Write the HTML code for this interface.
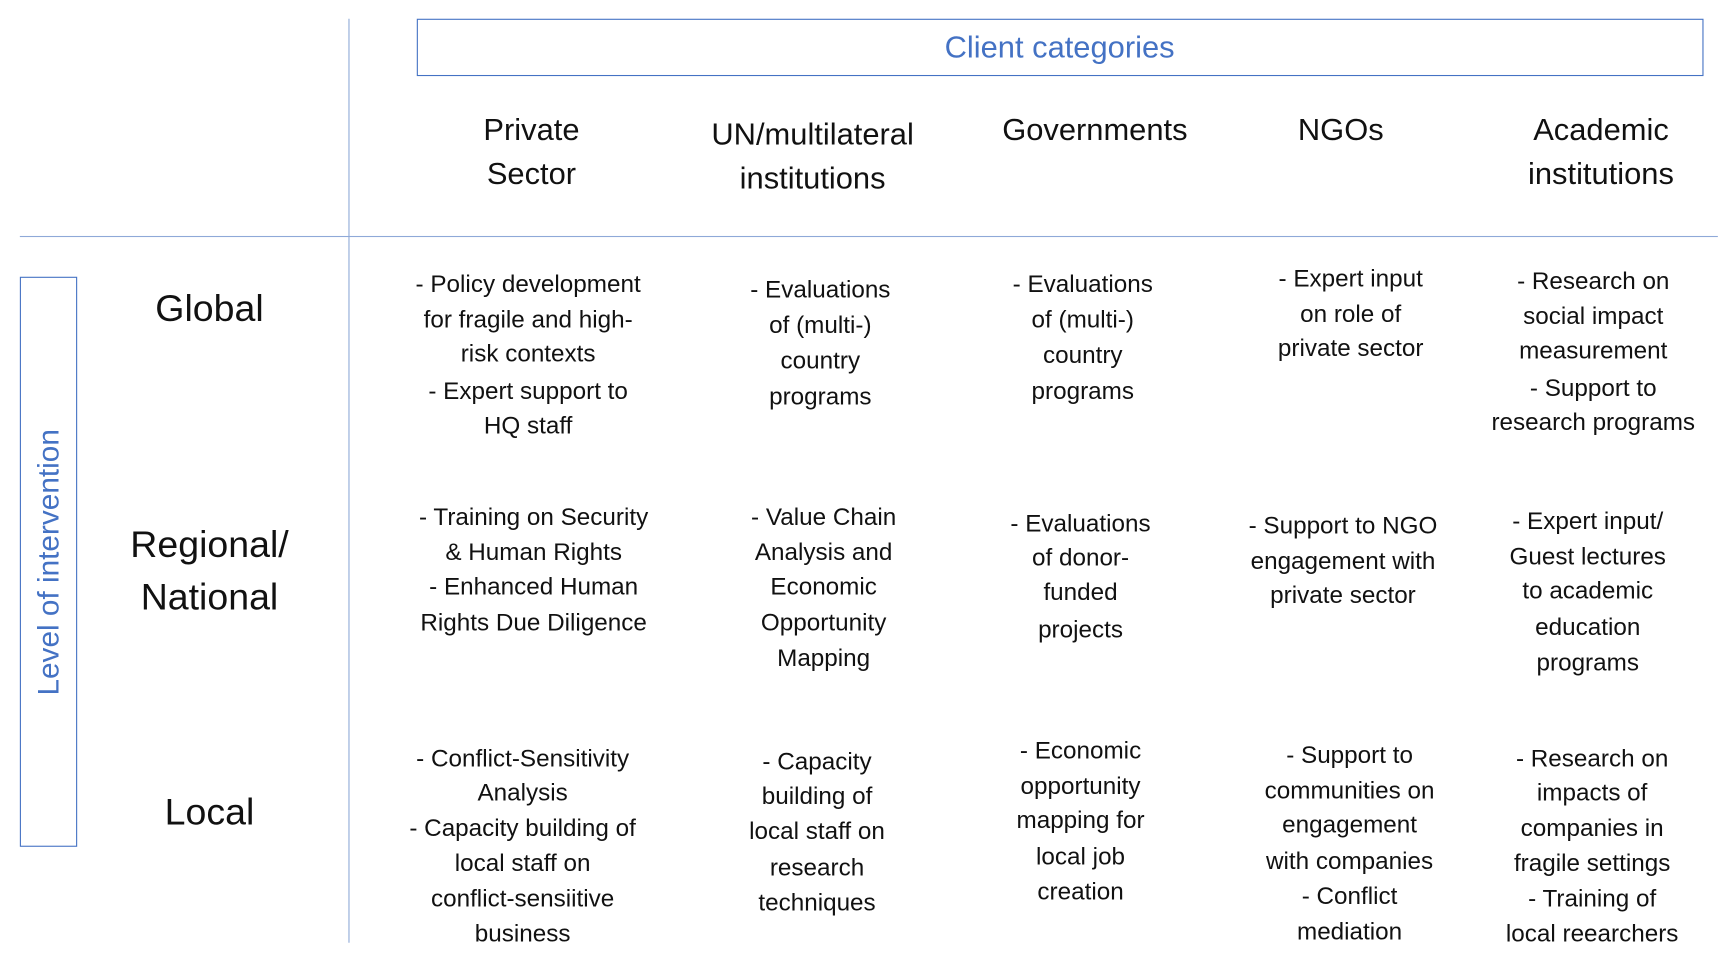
<!DOCTYPE html>
<html><head><meta charset="utf-8"><style>
html,body{margin:0;padding:0;background:#fff;}
body{width:1720px;height:972px;overflow:hidden;position:relative;}
#w{position:absolute;left:0;top:0;width:1560px;height:882px;transform:scale(1.1026);transform-origin:0 0;font-family:"Liberation Sans",sans-serif;color:#111;}
.l{position:absolute;width:420px;margin-left:-210px;text-align:center;line-height:32px;height:32px;margin-top:-17px;font-size:22px;white-space:nowrap;}
.h{font-size:28px;line-height:40px;height:40px;margin-top:-21px;}
.r{font-size:34px;line-height:40px;height:40px;margin-top:-21px;}
</style></head><body><div id="w">
<div style="position:absolute;left:316px;top:17px;width:1px;height:838px;background:#8fa9d8"></div>
<div style="position:absolute;left:18px;top:214px;width:1540px;height:1px;background:#8fa9d8"></div>
<div style="position:absolute;left:378px;top:17px;width:1165px;height:50px;border:1.5px solid #4472C4"></div>
<div class="l h" style="left:961px;top:44px;color:#4472C4">Client categories</div>
<div style="position:absolute;left:18px;top:251px;width:50px;height:515px;border:1.5px solid #4472C4"></div>
<div style="position:absolute;left:44px;top:510px;width:0;height:0"><div style="position:absolute;width:400px;left:-200px;top:-18px;text-align:center;font-size:27px;line-height:36px;color:#4472C4;transform:rotate(-90deg);white-space:nowrap">Level of intervention</div></div>

<div class="l h" style="left:482px;top:119px">Private</div><div class="l h" style="left:482px;top:159px">Sector</div>
<div class="l h" style="left:737px;top:123px">UN/multilateral</div><div class="l h" style="left:737px;top:163px">institutions</div>
<div class="l h" style="left:993px;top:119px">Governments</div>
<div class="l h" style="left:1216px;top:119px">NGOs</div>
<div class="l h" style="left:1452px;top:119px">Academic</div><div class="l h" style="left:1452px;top:159px">institutions</div>

<div class="l r" style="left:190px;top:281px">Global</div>
<div class="l r" style="left:190px;top:495px">Regional/</div><div class="l r" style="left:190px;top:543px">National</div>
<div class="l r" style="left:190px;top:738px">Local</div>

<div class="l" style="left:479px;top:259px">- Policy development</div>
<div class="l" style="left:479px;top:291px">for fragile and high-</div>
<div class="l" style="left:479px;top:322px">risk contexts</div>
<div class="l" style="left:479px;top:356px">- Expert support to</div>
<div class="l" style="left:479px;top:387px">HQ staff</div>

<div class="l" style="left:744px;top:264px">- Evaluations</div>
<div class="l" style="left:744px;top:296px">of (multi-)</div>
<div class="l" style="left:744px;top:328px">country</div>
<div class="l" style="left:744px;top:361px">programs</div>

<div class="l" style="left:982px;top:259px">- Evaluations</div>
<div class="l" style="left:982px;top:291px">of (multi-)</div>
<div class="l" style="left:982px;top:323px">country</div>
<div class="l" style="left:982px;top:356px">programs</div>

<div class="l" style="left:1225px;top:254px">- Expert input</div>
<div class="l" style="left:1225px;top:286px">on role of</div>
<div class="l" style="left:1225px;top:317px">private sector</div>

<div class="l" style="left:1445px;top:256px">- Research on</div>
<div class="l" style="left:1445px;top:288px">social impact</div>
<div class="l" style="left:1445px;top:319px">measurement</div>
<div class="l" style="left:1445px;top:353px">- Support to</div>
<div class="l" style="left:1445px;top:384px">research programs</div>

<div class="l" style="left:484px;top:470px">- Training on Security</div>
<div class="l" style="left:484px;top:502px">&amp; Human Rights</div>
<div class="l" style="left:484px;top:533px">- Enhanced Human</div>
<div class="l" style="left:484px;top:566px">Rights Due Diligence</div>

<div class="l" style="left:747px;top:470px">- Value Chain</div>
<div class="l" style="left:747px;top:502px">Analysis and</div>
<div class="l" style="left:747px;top:533px">Economic</div>
<div class="l" style="left:747px;top:566px">Opportunity</div>
<div class="l" style="left:747px;top:598px">Mapping</div>

<div class="l" style="left:980px;top:476px">- Evaluations</div>
<div class="l" style="left:980px;top:507px">of donor-</div>
<div class="l" style="left:980px;top:538px">funded</div>
<div class="l" style="left:980px;top:572px">projects</div>

<div class="l" style="left:1218px;top:478px">- Support to NGO</div>
<div class="l" style="left:1218px;top:510px">engagement with</div>
<div class="l" style="left:1218px;top:541px">private sector</div>

<div class="l" style="left:1440px;top:474px">- Expert input/</div>
<div class="l" style="left:1440px;top:506px">Guest lectures</div>
<div class="l" style="left:1440px;top:537px">to academic</div>
<div class="l" style="left:1440px;top:570px">education</div>
<div class="l" style="left:1440px;top:602px">programs</div>

<div class="l" style="left:474px;top:689px">- Conflict-Sensitivity</div>
<div class="l" style="left:474px;top:720px">Analysis</div>
<div class="l" style="left:474px;top:752px">- Capacity building of</div>
<div class="l" style="left:474px;top:784px">local staff on</div>
<div class="l" style="left:474px;top:816px">conflict-sensiitive</div>
<div class="l" style="left:474px;top:848px">business</div>

<div class="l" style="left:741px;top:692px">- Capacity</div>
<div class="l" style="left:741px;top:723px">building of</div>
<div class="l" style="left:741px;top:755px">local staff on</div>
<div class="l" style="left:741px;top:788px">research</div>
<div class="l" style="left:741px;top:820px">techniques</div>

<div class="l" style="left:980px;top:682px">- Economic</div>
<div class="l" style="left:980px;top:714px">opportunity</div>
<div class="l" style="left:980px;top:745px">mapping for</div>
<div class="l" style="left:980px;top:778px">local job</div>
<div class="l" style="left:980px;top:810px">creation</div>

<div class="l" style="left:1224px;top:686px">- Support to</div>
<div class="l" style="left:1224px;top:718px">communities on</div>
<div class="l" style="left:1224px;top:749px">engagement</div>
<div class="l" style="left:1224px;top:782px">with companies</div>
<div class="l" style="left:1224px;top:814px">- Conflict</div>
<div class="l" style="left:1224px;top:846px">mediation</div>

<div class="l" style="left:1444px;top:689px">- Research on</div>
<div class="l" style="left:1444px;top:720px">impacts of</div>
<div class="l" style="left:1444px;top:752px">companies in</div>
<div class="l" style="left:1444px;top:784px">fragile settings</div>
<div class="l" style="left:1444px;top:816px">- Training of</div>
<div class="l" style="left:1444px;top:848px">local reearchers</div>
</div></body></html>
